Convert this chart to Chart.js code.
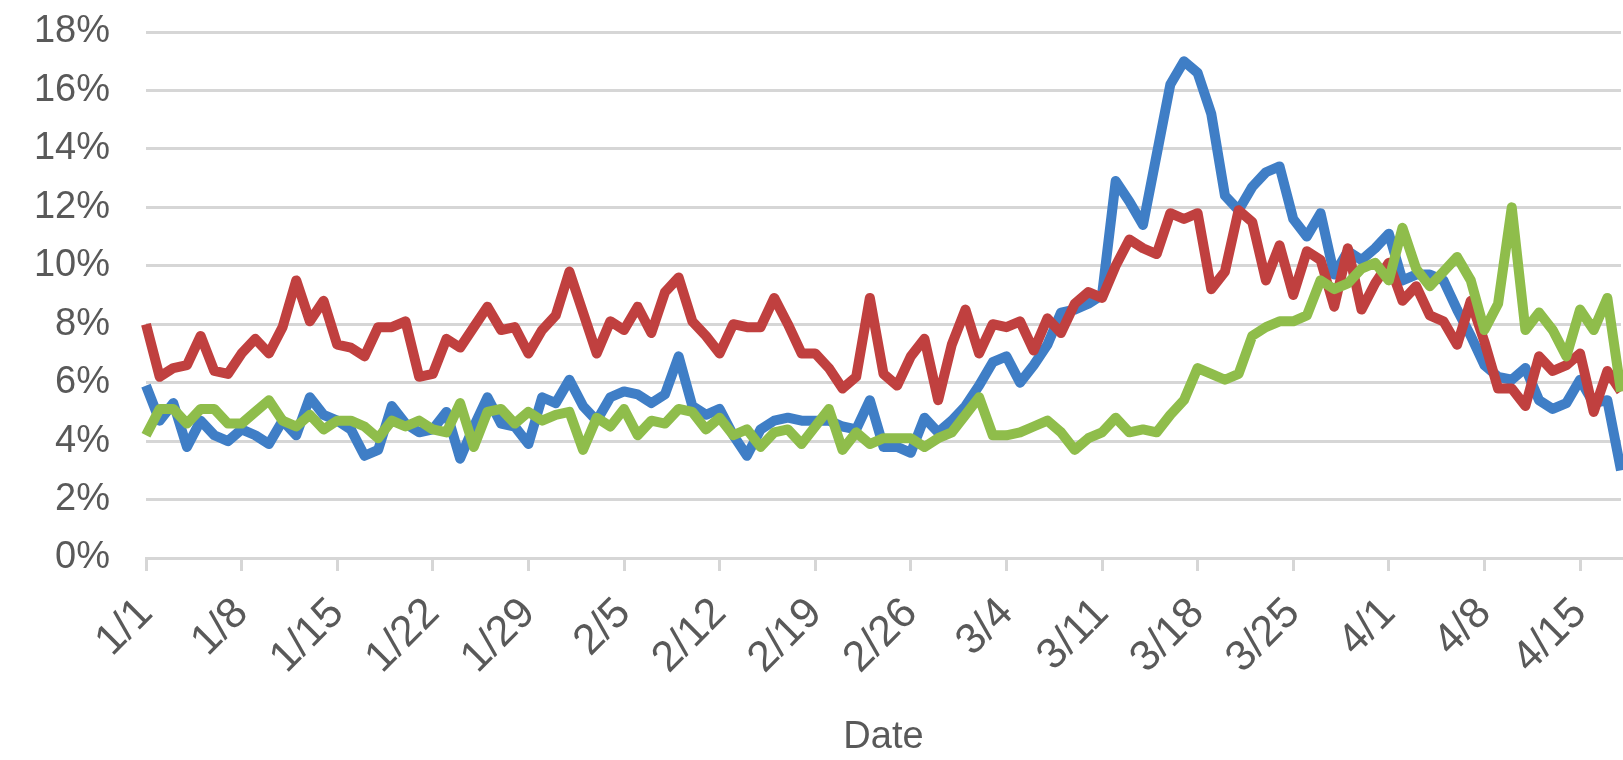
<!DOCTYPE html>
<html>
<head>
<meta charset="utf-8">
<script src="https://cdn.jsdelivr.net/npm/chart.js@4/dist/chart.umd.min.js"></script>
<style>
  html, body { margin: 0; padding: 0; background: #fff; }
  #wrap { width: 1623px; height: 760px; }
</style>
</head>
<body>
<div id="wrap"><canvas id="chart" width="1623" height="760"></canvas></div>
<script>
// days per month shown: Jan..Apr 18 (2020)
var monthDays = [31, 29, 31, 18];
var dates = [];
for (var m = 0; m < monthDays.length; m++) {
  for (var d = 1; d <= monthDays[m]; d++) dates.push((m + 1) + '/' + d);
}

var tickLabels = ['1/1', '1/8', '1/15', '1/22', '1/29', '2/5', '2/12', '2/19', '2/26',
                  '3/4', '3/11', '3/18', '3/25', '4/1', '4/8', '4/15'];

var blueSeries = [
  5.9, 4.7, 5.3, 3.8, 4.7, 4.2, 4.0, 4.4, 4.2, 3.9, 4.7, 4.2, 5.5, 4.9, 4.7, 4.4,
  3.5, 3.7, 5.2, 4.6, 4.3, 4.4, 5.0, 3.4, 4.5, 5.5, 4.6, 4.5, 3.9, 5.5, 5.3, 6.1,
  5.2, 4.7, 5.5, 5.7, 5.6, 5.3, 5.6, 6.9, 5.2, 4.9, 5.1, 4.2, 3.5, 4.4, 4.7, 4.8,
  4.7, 4.7, 4.7, 4.5, 4.4, 5.4, 3.8, 3.8, 3.6, 4.8, 4.3, 4.7, 5.2, 5.9, 6.7, 6.9,
  6.0, 6.6, 7.3, 8.4, 8.5, 8.7, 9.0, 12.9, 12.2, 11.4, 13.8, 16.2, 17.0, 16.6, 15.2, 12.4,
  11.9, 12.7, 13.2, 13.4, 11.6, 11.0, 11.8, 9.7, 10.5, 10.2, 10.6, 11.1, 9.5, 9.7, 9.7, 9.5,
  8.5, 7.6, 6.6, 6.2, 6.1, 6.5, 5.4, 5.1, 5.3, 6.1, 5.3, 5.4, 3.0
];

var redSeries = [
  8.0, 6.2, 6.5, 6.6, 7.6, 6.4, 6.3, 7.0, 7.5, 7.0, 7.9, 9.5, 8.1, 8.8, 7.3, 7.2,
  6.9, 7.9, 7.9, 8.1, 6.2, 6.3, 7.5, 7.2, 7.9, 8.6, 7.8, 7.9, 7.0, 7.8, 8.3, 9.8,
  8.4, 7.0, 8.1, 7.8, 8.6, 7.7, 9.1, 9.6, 8.1, 7.6, 7.0, 8.0, 7.9, 7.9, 8.9, 8.0,
  7.0, 7.0, 6.5, 5.8, 6.2, 8.9, 6.3, 5.9, 6.9, 7.5, 5.4, 7.3, 8.5, 7.0, 8.0, 7.9,
  8.1, 7.1, 8.2, 7.7, 8.7, 9.1, 8.9, 10.0, 10.9, 10.6, 10.4, 11.8, 11.6, 11.8, 9.2, 9.8,
  11.9, 11.5, 9.5, 10.7, 9.0, 10.5, 10.2, 8.6, 10.6, 8.5, 9.4, 10.1, 8.8, 9.3, 8.3, 8.1,
  7.3, 8.8, 7.4, 5.8, 5.8, 5.2, 6.9, 6.4, 6.6, 7.0, 5.0, 6.4, 5.7
];

var greenSeries = [
  4.2, 5.1, 5.1, 4.6, 5.1, 5.1, 4.6, 4.6, 5.0, 5.4, 4.7, 4.5, 4.9, 4.4, 4.7, 4.7,
  4.5, 4.1, 4.7, 4.5, 4.7, 4.4, 4.3, 5.3, 3.8, 5.0, 5.1, 4.6, 5.0, 4.7, 4.9, 5.0,
  3.7, 4.8, 4.5, 5.1, 4.2, 4.7, 4.6, 5.1, 5.0, 4.4, 4.8, 4.2, 4.4, 3.8, 4.3, 4.4,
  3.9, 4.5, 5.1, 3.7, 4.3, 3.9, 4.1, 4.1, 4.1, 3.8, 4.1, 4.3, 4.9, 5.5, 4.2, 4.2,
  4.3, 4.5, 4.7, 4.3, 3.7, 4.1, 4.3, 4.8, 4.3, 4.4, 4.3, 4.9, 5.4, 6.5, 6.3, 6.1,
  6.3, 7.6, 7.9, 8.1, 8.1, 8.3, 9.5, 9.2, 9.4, 9.9, 10.1, 9.5, 11.3, 9.9, 9.3, 9.8,
  10.3, 9.5, 7.8, 8.7, 12.0, 7.8, 8.4, 7.8, 6.9, 8.5, 7.8, 8.9, 5.7
];

var gridGray = '#d6d6d6';
var textGray = '#595959';
var font = 'Liberation Sans, Arial, sans-serif';

var ctx = document.getElementById('chart').getContext('2d');

function lineSet(label, data, color, order) {
  return {
    label: label,
    data: data,
    borderColor: color,
    backgroundColor: color,
    borderWidth: 10,
    borderJoinStyle: 'round',
    pointRadius: 0,
    tension: 0,
    fill: false,
    order: order
  };
}

var chart = new Chart(ctx, {
  type: 'line',
  data: {
    labels: dates,
    datasets: [
      lineSet('Series 1', blueSeries, '#3f7ec6', 2),
      lineSet('Series 2', redSeries, '#c0403f', 1),
      lineSet('Series 3', greenSeries, '#8fbd4b', 0)
    ]
  },
  options: {
    responsive: false,
    animation: false,
    devicePixelRatio: 1,
    layout: { padding: { top: 32, left: 0, right: 2, bottom: 0 } },
    plugins: {
      legend: { display: false },
      tooltip: { enabled: false }
    },
    scales: {
      x: {
        type: 'category',
        offset: false,
        grid: {
          drawOnChartArea: false,
          drawTicks: true,
          tickLength: 13,
          lineWidth: 3,
          color: function (c) {
            return tickLabels.indexOf(dates[c.index]) >= 0 ? gridGray : 'rgba(0,0,0,0)';
          }
        },
        border: { display: true, color: gridGray, width: 3 },
        ticks: {
          autoSkip: false,
          minRotation: 45,
          maxRotation: 45,
          padding: 2,
          color: textGray,
          font: { family: font, size: 43, lineHeight: 2.2 },
          callback: function (val, i) {
            var lab = dates[i];
            return tickLabels.indexOf(lab) >= 0 ? lab : '';
          }
        },
        title: {
          display: true,
          text: 'Date',
          color: textGray,
          font: { family: font, size: 38 },
          padding: { top: 0, bottom: 0 }
        },
        afterFit: function (s) {
          s.height = 202;
          s.paddingLeft = 0;
          s.paddingRight = 0;
        }
      },
      y: {
        min: 0,
        max: 18,
        grid: { color: gridGray, lineWidth: 3, drawTicks: false },
        border: { display: false },
        ticks: {
          stepSize: 2,
          padding: 36,
          color: textGray,
          font: { family: font, size: 38 },
          callback: function (v) { return v + '%'; }
        },
        afterFit: function (s) {
          s.width = 146;
          s.paddingTop = 0;
          s.paddingBottom = 0;
        }
      }
    }
  }
});
</script>
</body>
</html>
